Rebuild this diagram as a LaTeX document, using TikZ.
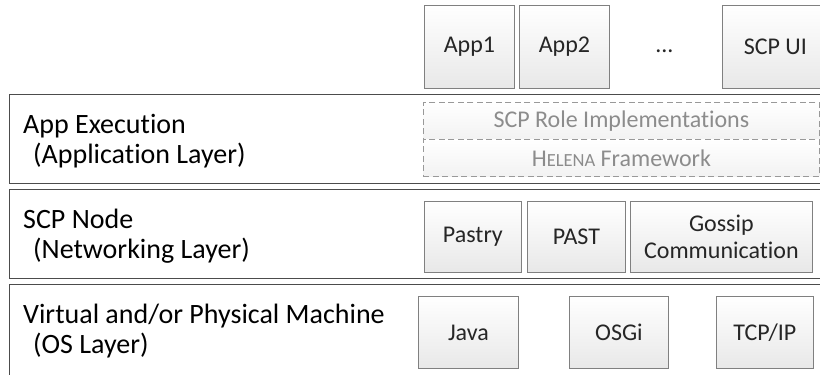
\documentclass[tikz,border=0pt]{standalone}
\usepackage{fontspec}
\setmainfont[Ligatures={NoCommon,NoRare}]{Carlito}
\usetikzlibrary{calc}

\begin{document}
\begin{tikzpicture}[x=1pt,y=-1pt,
	layer/.style={draw=black!70, line width=1pt, fill=white, anchor=north west, inner sep=0pt},
	laytext/.style={anchor=west, align=left, inner sep=0pt, font=\fontsize{28}{30}\selectfont},
	comp/.style={draw=black!50, line width=0.8pt, top color=white, bottom color=black!9,
		anchor=north west, inner sep=0pt, align=center, text=black!85,
		font=\fontsize{24}{27}\selectfont},
	frame/.style={draw=black!40, dashed, dash pattern=on 6pt off 3.5pt, line width=0.8pt,
		top color=white, bottom color=black!5, anchor=north west, inner sep=0pt,
		text=black!45, font=\fontsize{24}{27}\selectfont}
	]
	\useasboundingbox (0,0) rectangle (820,375);
	
	% apps on top
	\node[comp, minimum width=90, minimum height=83] (app1) at (424,5) {App1};
	\node[comp, minimum width=90, minimum height=83] (app2) at (519,5) {App2};
	\node[anchor=base, inner sep=0pt, text=black!85, font=\fontsize{24}{27}\selectfont]
		(dots) at ($(app2.base)+(100,0)$) {...};
	\node[comp, minimum width=106, minimum height=83] (ui) at (722,5) {SCP UI};
	
	% application layer
	\node[layer, minimum width=830, minimum height=89] (applayer) at (9,94) {};
	\node[laytext] (applabel) at (23,141) {App Execution\\\hspace*{10pt}(Application Layer)};
	\node[frame, minimum width=396, minimum height=37] (roles) at (423,102) {SCP Role Implementations};
	\node[frame, minimum width=396, minimum height=37] (helena) at (423,139)
		{H{\fontsize{18.5}{20}\selectfont ELENA} Framework};
	
	% networking layer
	\node[layer, minimum width=830, minimum height=89] (netlayer) at (9,189) {};
	\node[laytext] (netlabel) at (23,236) {SCP Node\\\hspace*{10pt}(Networking Layer)};
	\node[comp, minimum width=97, minimum height=71] (pastry) at (424,201) {Pastry};
	\node[comp, minimum width=98, minimum height=71] (past) at (527,201) {PAST};
	\node[comp, minimum width=182, minimum height=71] (gossip) at (630,201) {Gossip\\Communication};
	
	% os layer
	\node[layer, minimum width=830, minimum height=100] (oslayer) at (9,284) {};
	\node[laytext] (oslabel) at (23,331) {Virtual and/or Physical Machine\\\hspace*{10pt}(OS Layer)};
	\node[comp, minimum width=100, minimum height=72] (java) at (418,296) {Java};
	\node[comp, minimum width=99, minimum height=72] (osgi) at (569,296) {OSGi};
	\node[comp, minimum width=97, minimum height=72] (tcp) at (716,296) {TCP/IP};
	
\end{tikzpicture}
\end{document}
